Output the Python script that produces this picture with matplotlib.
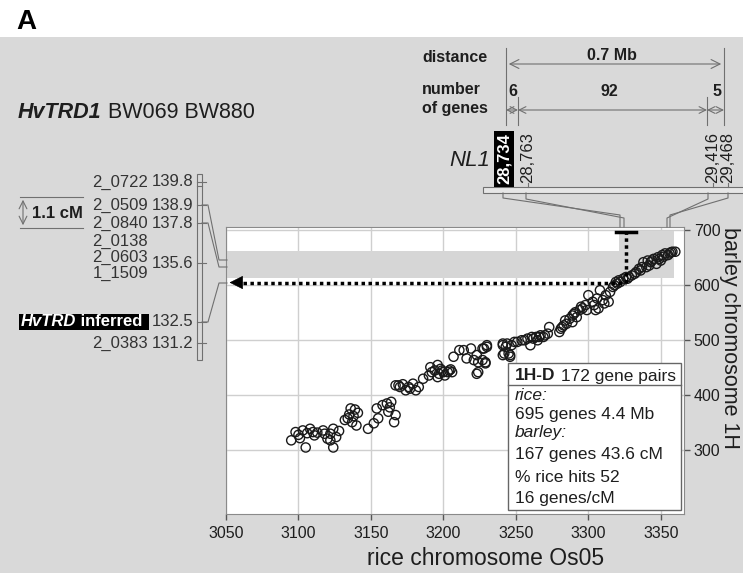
import matplotlib
matplotlib.use('Agg')
import matplotlib.pyplot as plt
from matplotlib.patches import Rectangle

plt.rcParams['font.family'] = ['Liberation Sans', 'DejaVu Sans']

# gene pairs: rice position (x) vs barley position (y)
rice_pos = [3095, 3098, 3100, 3101, 3103, 3105, 3106, 3108, 3110, 3111, 3113, 3117, 3118,
            3120, 3122, 3122, 3124, 3124, 3126, 3128, 3132, 3134, 3135, 3136, 3137, 3139,
            3140, 3141, 3138, 3148, 3152, 3155, 3154, 3158, 3161, 3162, 3163, 3164, 3166,
            3167, 3167, 3169, 3170, 3172, 3174, 3176, 3177, 3179, 3181, 3183, 3186, 3190,
            3191, 3192, 3194, 3196, 3196, 3197, 3198, 3199, 3200, 3201, 3203, 3204, 3205,
            3206, 3207, 3211, 3214, 3216, 3219, 3221, 3223, 3223, 3224, 3224, 3227, 3228,
            3229, 3230, 3230, 3227, 3229, 3241, 3241, 3241, 3242, 3243, 3244, 3245, 3246,
            3246, 3247, 3249, 3251, 3254, 3256, 3258, 3260, 3261, 3262, 3264, 3265, 3266,
            3267, 3269, 3270, 3272, 3273, 3280, 3281, 3282, 3283, 3284, 3285, 3287, 3289,
            3289, 3290, 3291, 3292, 3294, 3295, 3296, 3298, 3299, 3300, 3303, 3304, 3305,
            3306, 3307, 3308, 3310, 3311, 3312, 3314, 3315, 3317, 3318, 3319, 3320, 3321,
            3322, 3324, 3326, 3327, 3328, 3330, 3332, 3333, 3335, 3336, 3337, 3338, 3340,
            3341, 3342, 3343, 3344, 3345, 3347, 3348, 3349, 3350, 3351, 3352, 3353, 3355,
            3356, 3357, 3358, 3360]
barley_pos = [318, 333, 328, 322, 336, 305, 331, 339, 333, 327, 332, 336, 330,
              321, 318, 330, 305, 339, 324, 335, 355, 358, 365, 376, 351, 374,
              345, 368, 362, 339, 349, 358, 376, 382, 385, 370, 378, 388, 351,
              364, 418, 418, 415, 420, 409, 415, 412, 421, 409, 415, 430, 436,
              451, 442, 445, 433, 455, 439, 448, 445, 442, 436, 442, 445, 447,
              442, 470, 482, 482, 467, 485, 464, 473, 439, 442, 460, 485, 485,
              460, 488, 491, 464, 458, 491, 494, 473, 476, 488, 494, 476, 473,
              470, 491, 497, 497, 500, 500, 503, 491, 506, 503, 506, 500, 506,
              509, 506, 509, 512, 524, 515, 521, 524, 527, 536, 530, 539, 545,
              533, 548, 551, 542, 555, 561, 558, 564, 555, 582, 570, 564, 555,
              576, 558, 591, 573, 567, 582, 570, 588, 597, 600, 606, 603, 609,
              606, 612, 615, 612, 615, 618, 621, 624, 630, 627, 633, 642, 633,
              645, 636, 642, 645, 648, 639, 651, 648, 645, 655, 652, 658, 655,
              658, 660, 661, 661]

x_ticks = [3050, 3100, 3150, 3200, 3250, 3300, 3350]
y_ticks = [300, 400, 500, 600, 700]

# highlighted barley interval and NL1 rice interval
band_y = [613, 662]
nl1_x = [3321, 3359]
nl1_top = 698
inferred_x = 3326
inferred_y = 605

# barley genetic map (left)
marker_names = ['2_0722', '2_0509', '2_0840', '2_0138', '2_0603', '1_1509', '2_0383']
marker_cm = ['139.8', '138.9', '137.8', '', '135.6', '', '131.2']

# NL1 gene coordinates on rice
nl1_genes = ['28,734', '28,763', '29,416', '29,468']
gene_counts = ['6', '92', '5']

stats_lines = ['695 genes 4.4 Mb', '167 genes 43.6 cM', '% rice hits 52', '16 genes/cM']

W, H = 743, 573
BG = '#d9d9d9'
TXT = '#1e1e1e'
LN = '#707070'

fig = plt.figure(figsize=(W / 100, H / 100), dpi=100, facecolor=BG)

# main scatter axes
ax = fig.add_axes([226 / W, 1 - 514 / H, 458 / W, 287 / H])
ax.set_xlim(3050, 3366)
ax.set_ylim(184, 706)
ax.set_xticks(x_ticks)
ax.set_yticks(y_ticks)
ax.yaxis.tick_right()
ax.grid(True, color='#cfcfcf', lw=1)
ax.set_axisbelow(True)
for s in ax.spines.values():
    s.set_color('#8a8a8a')
ax.tick_params(axis='both', direction='out', length=4, width=1, color='#555555',
               labelsize=11.5, labelcolor=TXT)
ax.tick_params(axis='x', pad=5)
ax.tick_params(axis='y', pad=3)

ax.fill_between([3050, nl1_x[1]], band_y[0], band_y[1], color='#d6d6d6', lw=0, zorder=1)
ax.fill_between(nl1_x, band_y[1], nl1_top, color='#d6d6d6', lw=0, zorder=1)

ax.scatter(rice_pos, barley_pos, s=44, facecolors='none', edgecolors='#1a1a1a',
           linewidths=1.0, zorder=3)

# inferred position of HvTRD
ax.plot([inferred_x, inferred_x], [inferred_y, nl1_top - 1], color='black', lw=2.5,
        ls=(0, (1, 1)), zorder=4)
ax.plot([inferred_x - 7, inferred_x + 7], [nl1_top - 1, nl1_top - 1], color='black', lw=2.5, zorder=4)
ax.plot([3062, inferred_x], [inferred_y, inferred_y], color='black', lw=2.5,
        ls=(0, (1, 1)), zorder=4)
ax.annotate('', xy=(3050.5, inferred_y), xytext=(3063, inferred_y),
            arrowprops=dict(arrowstyle='-|>', color='black', lw=0.5, mutation_scale=22),
            zorder=5)

# overlay in pixel coordinates
ov = fig.add_axes([0, 0, 1, 1], zorder=5)
ov.set_xlim(0, W)
ov.set_ylim(H, 0)
ov.axis('off')
ov.patch.set_alpha(0)

R = fig.canvas.get_renderer()


def runs(x, y, parts, size, **kw):
    # write text pieces one after another
    for txt, weight, style, col in parts:
        t = ov.text(x, y, txt, fontsize=size, fontweight=weight, fontstyle=style,
                    color=col, va='center', ha='left', **kw)
        x += t.get_window_extent(renderer=R).width
    return x


ov.add_patch(Rectangle((0, 0), W, 37, facecolor='white', edgecolor='none'))
ov.text(16, 22, 'A', fontsize=20, fontweight='bold', color='black', va='center')

runs(18, 113, [('HvTRD1', 'bold', 'italic', TXT), (' BW069 BW880', 'normal', 'normal', TXT)], 15.5)

# genetic map
name_y = [182, 205, 223, 241, 257, 273, 343]
num_y = [182, 205, 223, 241, 263, 273, 343]
for nm, cm, ny, cy in zip(marker_names, marker_cm, name_y, num_y):
    ov.text(148, ny, nm, fontsize=12, color='#333333', ha='right', va='center')
    if cm:
        ov.text(152, cy, cm, fontsize=12, color='#333333', ha='left', va='center')
        ov.plot([197, 206], [cy, cy], color=LN, lw=0.8)
ov.add_patch(Rectangle((19, 314), 130, 16, facecolor='black', edgecolor='none'))
runs(21, 322, [('HvTRD', 'bold', 'italic', 'white'), (' inferred', 'bold', 'normal', 'white')], 12)
ov.text(152, 322, '132.5', fontsize=12, color='#333333', ha='left', va='center')
ov.plot([197, 206], [322, 322], color=LN, lw=0.8)
ov.add_patch(Rectangle((197, 174), 5, 186, facecolor='none', edgecolor=LN, lw=0.8))
ov.plot([197, 202], [186, 186], color=LN, lw=0.8)

ov.plot([202, 208, 219, 227], [205, 205, 260, 260], color=LN, lw=0.8)
ov.plot([202, 208, 219, 227], [223, 223, 267, 267], color=LN, lw=0.8)
ov.plot([202, 208, 219, 227], [322, 322, 283, 283], color=LN, lw=0.8)

ov.plot([20, 83], [197, 197], color=LN, lw=0.8)
ov.plot([20, 83], [228, 228], color=LN, lw=0.8)
ov.annotate('', xy=(23, 197), xytext=(23, 228),
            arrowprops=dict(arrowstyle='<->', color=LN, lw=0.8, mutation_scale=14))
ov.text(32, 214, '1.1 cM', fontsize=12, fontweight='bold', color=TXT, va='center')

# NL1 region on rice
ov.text(422, 58, 'distance', fontsize=11.5, fontweight='bold', color=TXT, va='center')
ov.text(422, 90, 'number', fontsize=11.5, fontweight='bold', color=TXT, va='center')
ov.text(422, 108, 'of genes', fontsize=11.5, fontweight='bold', color=TXT, va='center')
for xv, y0 in [(506, 48), (724, 48), (518, 97), (707, 97)]:
    ov.plot([xv, xv], [y0, 125], color=LN, lw=0.8)
ov.annotate('', xy=(506, 64), xytext=(724, 64),
            arrowprops=dict(arrowstyle='<->', color=LN, lw=0.8, mutation_scale=16))
ov.text(612, 55, '0.7 Mb', fontsize=11.5, fontweight='bold', color=TXT, ha='center', va='center')
for a, b in [(506, 518), (518, 707), (707, 724)]:
    ov.annotate('', xy=(a, 110), xytext=(b, 110),
                arrowprops=dict(arrowstyle='<->', color=LN, lw=0.8, mutation_scale=12,
                                shrinkA=0, shrinkB=0))
for txt, xv in zip(gene_counts, [513, 609, 717]):
    ov.text(xv, 92, txt, fontsize=11.5, fontweight='bold', color=TXT, ha='center', va='center')

ov.text(490, 160, 'NL1', fontsize=16, fontstyle='italic', color=TXT, ha='right', va='center')
gene_x = [504, 528, 713, 728]
for i, (g, xv) in enumerate(zip(nl1_genes, gene_x)):
    if i == 0:
        ov.text(xv, 184, g, fontsize=12, fontweight='bold', color='white', rotation=90,
                ha='center', va='bottom',
                bbox=dict(facecolor='black', edgecolor='none', pad=1.8))
    else:
        ov.text(xv, 183, g, fontsize=12, color=TXT, rotation=90, ha='center', va='bottom')
        ov.plot([xv, xv], [183, 187], color=LN, lw=0.8)
ov.add_patch(Rectangle((483, 187), 270, 6, facecolor='#e6e6e6', edgecolor=LN, lw=0.8))
ov.plot([503, 503, 620, 620], [193, 198, 215, 227], color=LN, lw=0.8)
ov.plot([526, 526, 624, 624], [193, 199, 218, 227], color=LN, lw=0.8)
ov.plot([708, 708, 667, 667], [193, 199, 218, 227], color=LN, lw=0.8)
ov.plot([728, 728, 670, 670], [193, 198, 215, 227], color=LN, lw=0.8)

# statistics box
ov.add_patch(Rectangle((508, 363), 173, 147, facecolor='white', edgecolor='#666666', lw=1))
ov.plot([508, 681], [385, 385], color='#666666', lw=1)
runs(515, 376, [('1H-D', 'bold', 'normal', TXT), (' 172 gene pairs', 'normal', 'normal', TXT)], 12.5)
ov.text(515, 395, 'rice:', fontsize=12.5, fontstyle='italic', color=TXT, va='center')
ov.text(515, 414, stats_lines[0], fontsize=12.5, color=TXT, va='center')
ov.text(515, 433, 'barley:', fontsize=12.5, fontstyle='italic', color=TXT, va='center')
for txt, yv in zip(stats_lines[1:], [455, 477, 498]):
    ov.text(515, yv, txt, fontsize=12.5, color=TXT, va='center')

# axis titles
ov.text(486, 565, 'rice chromosome Os05', fontsize=16.5, color=TXT, ha='center', va='baseline')
ov.text(719, 227, 'barley chromosome 1H', fontsize=15.5, color=TXT, rotation=270,
        ha='left', va='top')

fig.savefig('out.png', dpi=100, facecolor=BG)
